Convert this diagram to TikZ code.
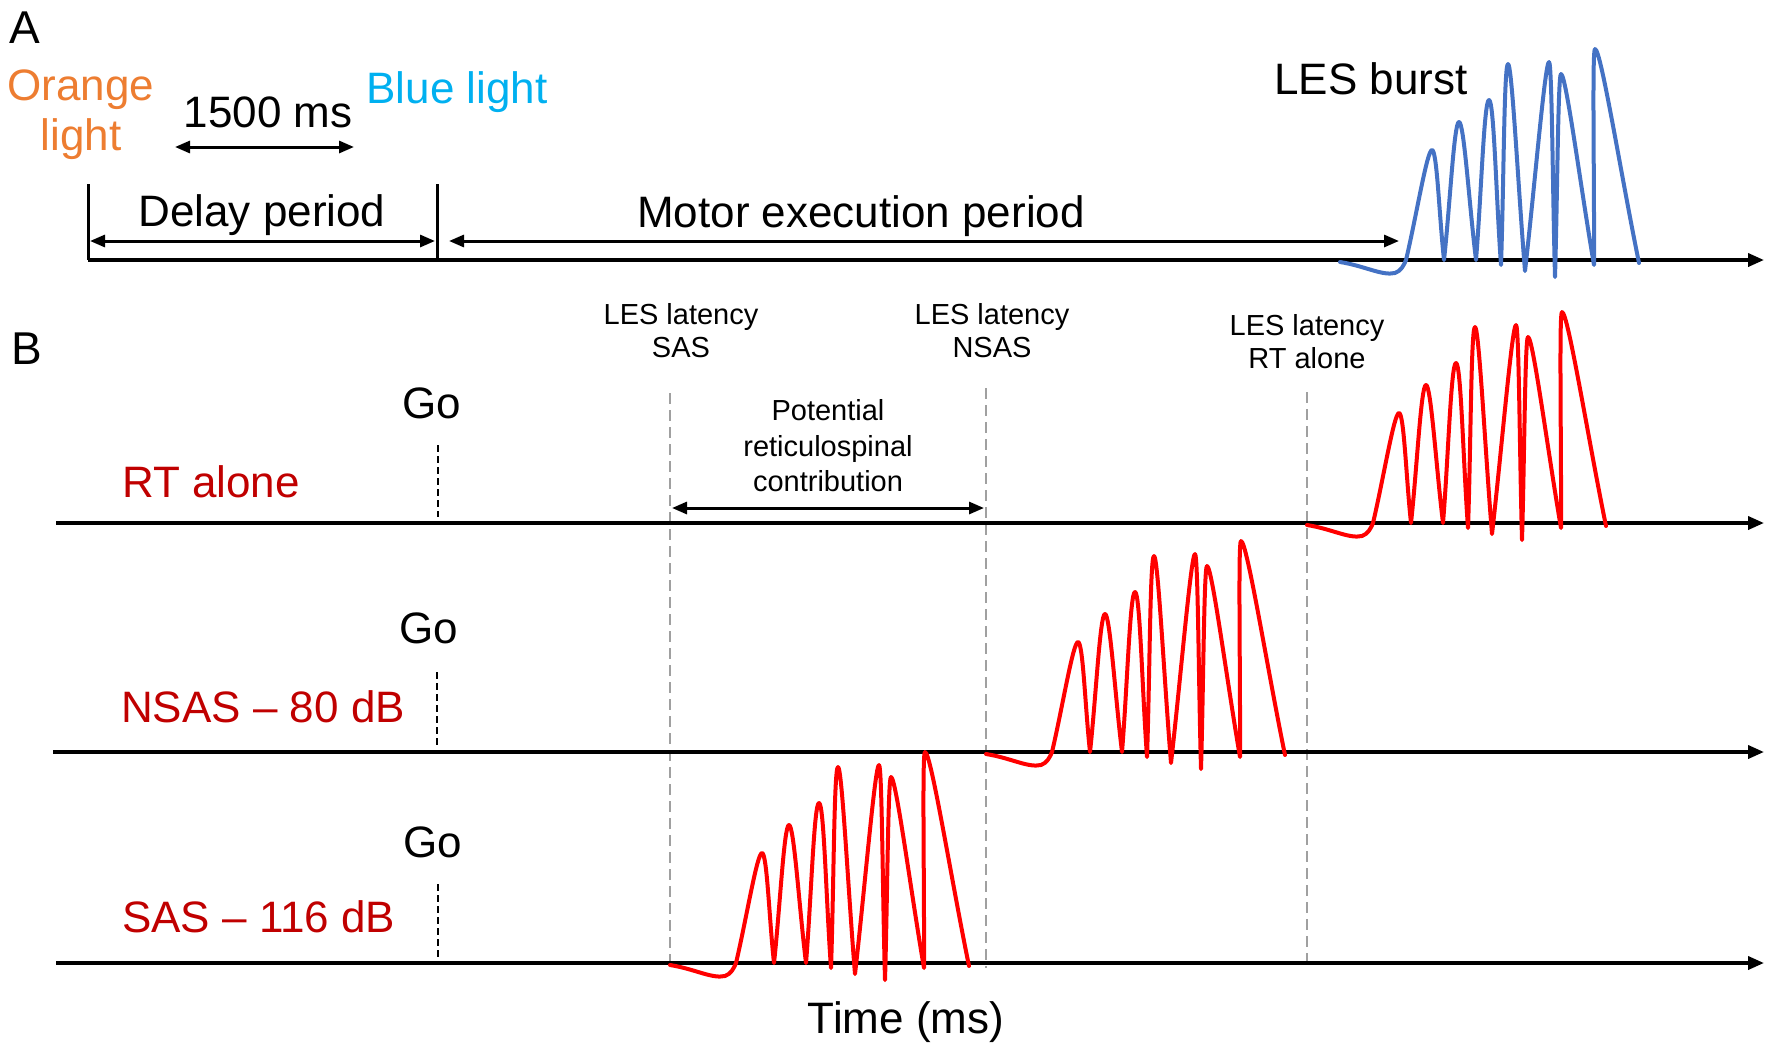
\documentclass[tikz,border=0pt]{standalone}
\usepackage{fontspec}
\setmainfont{Liberation Sans}
\usetikzlibrary{arrows.meta}
\definecolor{lightorange}{HTML}{ED7D31}
\definecolor{lightblue}{HTML}{00B0F0}
\definecolor{darkred}{HTML}{C00000}
\definecolor{burstred}{HTML}{FF0000}
\definecolor{burstblue}{HTML}{4472C4}
\definecolor{latgrey}{HTML}{A0A0A0}
\tikzset{
  big/.style={font=\fontsize{44}{50}\selectfont, inner sep=0pt, anchor=base},
  bigleft/.style={big, anchor=base west},
  small/.style={font=\fontsize{29}{34}\selectfont, inner sep=0pt, anchor=base},
  panel/.style={font=\fontsize{46}{50}\selectfont, inner sep=0pt, anchor=base west},
  axisline/.style={line width=3.6pt, -{Triangle[length=16pt,width=13pt]}},
  twoway/.style={line width=3pt, {Triangle[length=15pt,width=12pt]}-{Triangle[length=15pt,width=12pt]}},
  tick/.style={line width=3pt},
  golineA/.style={line width=2.2pt, dash pattern=on 7pt off 4pt},
  latline/.style={line width=2pt, latgrey, dash pattern=on 11pt off 6pt},
  burst/.pic={
    \draw[pic actions, line width=4pt, line join=round, line cap=round]
      (0,2) .. controls (25,6) and (42,16) .. (55,13) .. controls (61,11) and (64,5) .. (66,0)
      .. controls (76.4,-44) and (87,-110) .. (92,-110)
      .. controls (97,-110) and (99.2,-44) .. (104,0)
      .. controls (110,-55.2) and (114,-138) .. (119,-138)
      .. controls (124,-138) and (129.2,-55.2) .. (136,0)
      .. controls (141.2,-64) and (144,-160) .. (149,-160)
      .. controls (154,-160) and (156.2,-61) .. (161,5)
      .. controls (163.8,-75.4) and (164,-196) .. (168,-196)
      .. controls (172,-196) and (178.2,-71.8) .. (185,11)
      .. controls (194.6,-72.6) and (205,-198) .. (209,-198)
      .. controls (212,-198) and (212.6,-69) .. (215,17)
      .. controls (217.4,-64.2) and (218,-186) .. (221,-186)
      .. controls (226,-186) and (240.8,-71.4) .. (254,5)
      .. controls (254.4,-81.4) and (252,-211) .. (255,-211)
      .. controls (261,-211) and (281.4,-82.6) .. (299,3);
  }
}
\begin{document}
\begin{tikzpicture}[x=1pt,y=-1pt]
\useasboundingbox (0,0) rectangle (1772,1050);

% ---------------- Panel A ----------------
\node[panel] (labA) at (9,43) {A};
\node[big, lightorange] (orange1) at (81,100) {Orange};
\node[big, lightorange] (orange2) at (81,150) {light};
\node[big] (ms1500) at (268,127) {1500 ms};
\node[big, lightblue] (bluelight) at (457,103) {Blue light};
\coordinate (msL) at (175,147);
\coordinate (msR) at (354,147);
\draw[twoway] (msL) -- (msR);

\coordinate (vAtop) at (88,184);
\coordinate (vAbot) at (88,260);
\coordinate (vBtop) at (437,184);
\coordinate (vBbot) at (437,260);
\coordinate (axAend) at (1764,260);
\draw[tick] (vAtop) -- (vAbot);
\draw[tick] (vBtop) -- (vBbot);
\draw[axisline] (vAbot) -- (axAend);

\node[big] (delay) at (262,226) {Delay period};
\coordinate (delL) at (90,241);
\coordinate (delR) at (435,241);
\draw[twoway] (delL) -- (delR);

\node[big] (motor) at (861,227) {Motor execution period};
\coordinate (motL) at (449,241);
\coordinate (motR) at (1399,241);
\draw[twoway] (motL) -- (motR);

\node[big] (lesburst) at (1371,94) {LES burst};
\pic[draw=burstblue] (bblue) at (1340,260) {burst};

% ---------------- Panel B ----------------
\node[panel] (labB) at (11,364) {B};

\node[small] (lat1a) at (681,324) {LES latency};
\node[small] (lat1b) at (681,357) {SAS};
\node[small] (lat2a) at (992,324) {LES latency};
\node[small] (lat2b) at (992,357) {NSAS};
\node[small] (lat3a) at (1307,335) {LES latency};
\node[small] (lat3b) at (1307,368) {RT alone};

\node[small] (pot1) at (828,420) {Potential};
\node[small] (pot2) at (828,456) {reticulospinal};
\node[small] (pot3) at (828,491) {contribution};

% latency dashed lines
\coordinate (sasT) at (670,393);   \coordinate (sasB) at (670,968);
\coordinate (nsasT) at (986,388);  \coordinate (nsasB) at (986,968);
\coordinate (rtT) at (1307,392);   \coordinate (rtB) at (1307,968);
\draw[latline] (sasT) -- (sasB);
\draw[latline] (nsasT) -- (nsasB);
\draw[latline] (rtT) -- (rtB);

\coordinate (potL) at (672,508);
\coordinate (potR) at (984,508);
\draw[twoway] (potL) -- (potR);

% RT alone row
\node[big] (go1) at (432,418) {Go};
\node[bigleft, darkred] (rtalone) at (122,497) {RT alone};
\coordinate (g1T) at (438,445); \coordinate (g1B) at (438,517);
\draw[golineA] (g1T) -- (g1B);
\coordinate (ax1s) at (56,523); \coordinate (ax1e) at (1764,523);
\draw[axisline] (ax1s) -- (ax1e);
\pic[draw=burstred] (b1) at (1307,523) {burst};

% NSAS row
\node[big] (go2) at (429,643) {Go};
\node[bigleft, darkred] (nsas) at (121,722) {NSAS – 80 dB};
\coordinate (g2T) at (437,672); \coordinate (g2B) at (437,748);
\draw[golineA] (g2T) -- (g2B);
\coordinate (ax2s) at (53,752); \coordinate (ax2e) at (1764,752);
\draw[axisline] (ax2s) -- (ax2e);
\pic[draw=burstred] (b2) at (986,752) {burst};

% SAS row
\node[big] (go3) at (433,857) {Go};
\node[bigleft, darkred] (sas) at (122,932) {SAS – 116 dB};
\coordinate (g3T) at (438,884); \coordinate (g3B) at (438,958);
\draw[golineA] (g3T) -- (g3B);
\coordinate (ax3s) at (56,963); \coordinate (ax3e) at (1764,963);
\draw[axisline] (ax3s) -- (ax3e);
\pic[draw=burstred] (b3) at (670,963) {burst};

\node[big] (time) at (906,1033) {Time (ms)};
\end{tikzpicture}
\end{document}
